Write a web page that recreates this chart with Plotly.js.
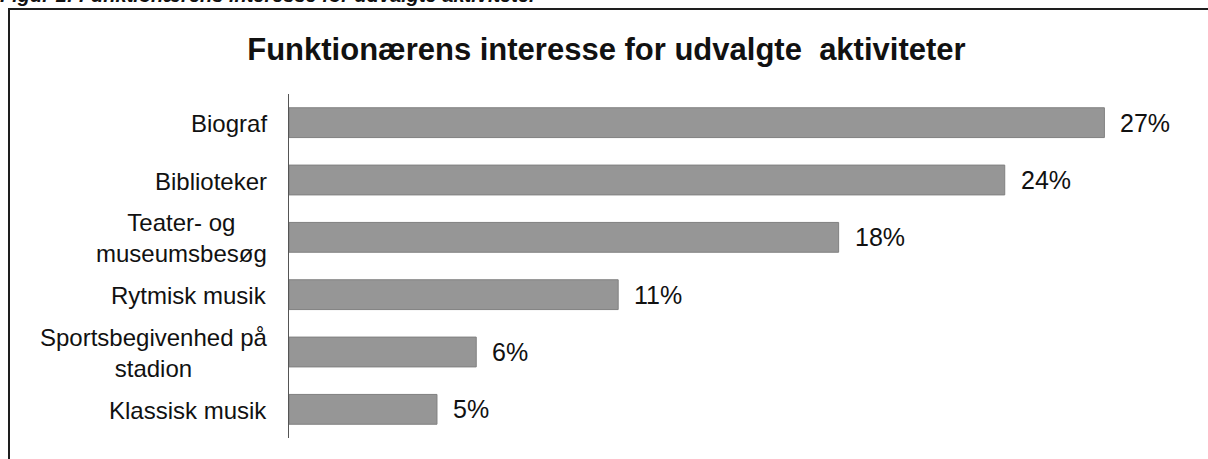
<!DOCTYPE html>
<html>
<head>
<meta charset="utf-8">
<script src="https://cdn.plot.ly/plotly-3.0.1.min.js"></script>
<style>
  html, body { margin: 0; padding: 0; background: #fff; }
  #wrap { position: relative; width: 1208px; height: 459px; overflow: hidden; }
  #chart { position: absolute; left: 0; top: 0; width: 1208px; height: 459px; }
  #frame { position: absolute; left: 8px; top: 8px; width: 1300px; height: 600px;
           border-left: 2px solid #1e1e1e; border-top: 2px solid #1e1e1e; pointer-events: none; }
  #caption { position: absolute; left: 0px; top: -16px; white-space: nowrap;
             font-family: "Liberation Sans", Arial, sans-serif; font-weight: bold; font-style: italic;
             font-size: 20px; color: #111; }
</style>
</head>
<body>
<div id="wrap">
  <div id="chart"></div>
  <div id="frame"></div>
  <div id="caption">Figur 1: Funktionærens interesse for udvalgte aktiviteter</div>
</div>
<script>
const chartTitle = "Funktionærens interesse for udvalgte&nbsp; aktiviteter";
const categories = ["Biograf", "Biblioteker", "Teater- og<br>museumsbesøg", "Rytmisk musik", "Sportsbegivenhed på<br>stadion", "Klassisk musik"];
const values = [27, 23.7, 18.2, 10.9, 6.2, 4.9];
const valueLabels = ["27%", "24%", "18%", "11%", "6%", "5%"];

const FONT = "Liberation Sans, Arial, sans-serif";

const annotations = [];
categories.forEach((c, i) => {
  annotations.push({
    x: 0, xref: "x", y: c, yref: "y", text: c, showarrow: false,
    xanchor: "right", yanchor: "middle", align: "center", xshift: -20, yshift: -1,
    font: { family: FONT, size: 24, color: "#111" }
  });
  annotations.push({
    x: values[i], xref: "x", y: c, yref: "y", text: valueLabels[i], showarrow: false,
    xanchor: "left", yanchor: "middle", xshift: 14,
    font: { family: FONT, size: 25, color: "#111" }
  });
});

const trace = {
  type: "bar", orientation: "h",
  x: values, y: categories,
  marker: { color: "#969696", line: { color: "#808080", width: 1 } },
  hoverinfo: "none"
};

const layout = {
  width: 1208, height: 459,
  margin: { l: 289, r: 13, t: 94, b: 21 },
  paper_bgcolor: "rgba(0,0,0,0)", plot_bgcolor: "rgba(0,0,0,0)",
  bargap: 0.48,
  title: { text: chartTitle, x: 0.502, xref: "container", y: 1 - 49/459, yref: "container",
           xanchor: "center", yanchor: "middle",
           font: { family: FONT, size: 31, color: "#111", weight: "bold" } },
  xaxis: { range: [0, 30], visible: false, fixedrange: true },
  yaxis: { type: "category", autorange: "reversed", showticklabels: false, ticks: "",
           showline: true, linecolor: "#555", linewidth: 1.5, showgrid: false, zeroline: false },
  annotations: annotations,
  showlegend: false
};

Plotly.newPlot("chart", [trace], layout, { staticPlot: true, displayModeBar: false });
</script>
</body>
</html>
